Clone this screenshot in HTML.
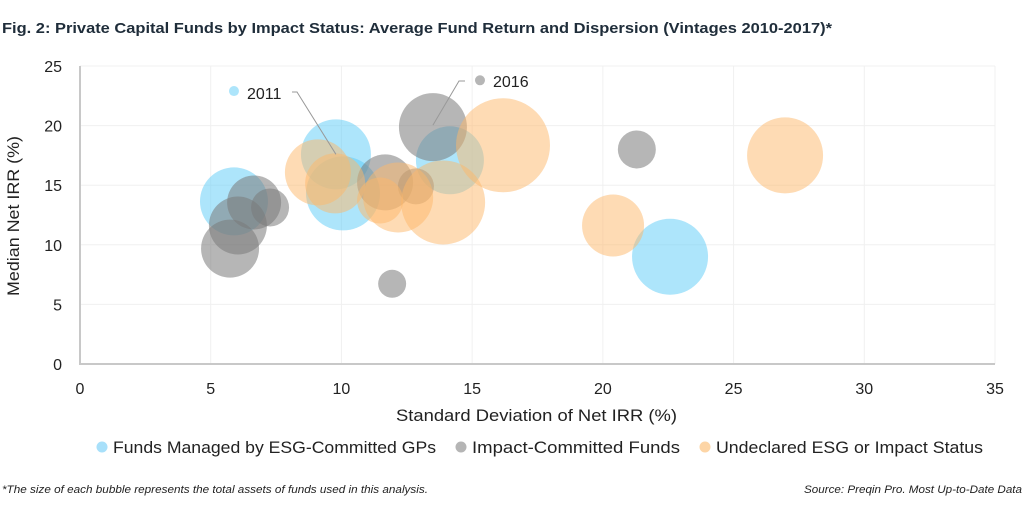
<!DOCTYPE html>
<html><head><meta charset="utf-8"><style>
html,body{margin:0;padding:0;background:#fff;}
body{width:1024px;height:512px;overflow:hidden;font-family:"Liberation Sans",sans-serif;}
</style></head><body>
<svg width="1024" height="512" xmlns="http://www.w3.org/2000/svg" font-family="Liberation Sans, sans-serif">
<text x="2" y="33" font-size="15" font-weight="bold" fill="#1f2d3a" textLength="830" lengthAdjust="spacingAndGlyphs">Fig. 2: Private Capital Funds by Impact Status: Average Fund Return and Dispersion (Vintages 2010-2017)*</text>
<g id="grid"></g>
<g id="axes"></g>
<g id="bubbles"></g>
<g id="ann"></g>
<text x="396" y="421" font-size="17" fill="#222" textLength="281" lengthAdjust="spacingAndGlyphs">Standard Deviation of Net IRR (%)</text>
<text transform="translate(19,296) rotate(-90)" font-size="17" fill="#222" textLength="160" lengthAdjust="spacingAndGlyphs">Median Net IRR (%)</text>
<g font-size="17" fill="#222">
<g><circle cx="102" cy="447" r="5.5" fill="#a8e0fa"/><text x="113" y="453" textLength="323" lengthAdjust="spacingAndGlyphs">Funds Managed by ESG-Committed GPs</text></g>
<g><circle cx="461" cy="447" r="5.5" fill="#b5b5b5"/><text x="472" y="453" textLength="208" lengthAdjust="spacingAndGlyphs">Impact-Committed Funds</text></g>
<g><circle cx="705" cy="447" r="5.5" fill="#fdd5a6"/><text x="716" y="453" textLength="267" lengthAdjust="spacingAndGlyphs">Undeclared ESG or Impact Status</text></g>
</g>
<text x="2" y="493" font-size="11" font-style="italic" fill="#222" textLength="426" lengthAdjust="spacingAndGlyphs">*The size of each bubble represents the total assets of funds used in this analysis.</text>
<text x="804" y="493" font-size="11" font-style="italic" fill="#222" textLength="218" lengthAdjust="spacingAndGlyphs">Source: Preqin Pro. Most Up-to-Date Data</text>
</svg>
<script>
const xTicks=[0,5,10,15,20,25,30,35];
const yTicks=[0,5,10,15,20,25];
const esgX=[5.89,10.06,9.79,14.15,22.57,5.89];
const esgY=[13.64,14.31,17.59,17.09,9.0,22.9];
const esgSize=[1156,1369,1225,1156,1444,25];
const impX=[6.66,7.27,6.04,5.74,11.67,13.5,12.85,11.94,21.3,15.3];
const impY=[13.55,13.13,11.62,9.68,15.24,19.87,14.9,6.73,18.0,23.8];
const impSize=[729,361,841,841,784,1156,324,196,361,25];
const undX=[9.1,9.76,11.48,12.17,13.89,16.18,20.39,26.97];
const undY=[16.08,15.15,13.72,13.97,13.55,18.35,11.62,17.5];
const undSize=[1089,900,529,1225,1764,2209,961,1444];
const NS="http://www.w3.org/2000/svg";
const X0=80,X1=995,Y0=364,Y1=66;
const xs=v=>X0+(v-0)/(35-0)*(X1-X0);
const ys=v=>Y0-(v-0)/(25-0)*(Y0-Y1);
const rs=s=>Math.sqrt(s);
function mk(tag,attrs,parent){const e=document.createElementNS(NS,tag);for(const k in attrs)e.setAttribute(k,attrs[k]);parent.appendChild(e);return e;}
const grid=document.getElementById('grid'),axes=document.getElementById('axes');
xTicks.forEach(t=>{
 if(t>0){const l=mk('line',{x1:xs(t),x2:xs(t),y1:Y1,y2:Y0,stroke:'#f0f0f0'},grid);
 
 }
 const tx=mk('text',{x:xs(t),y:Y0+30,'font-size':16,fill:'#222','text-anchor':'middle'},axes);tx.textContent=t;
 
 
});
yTicks.forEach(t=>{
 if(t>0){const l=mk('line',{x1:X0,x2:X1,y1:ys(t),y2:ys(t),stroke:'#f0f0f0'},grid);
 
 }
 const tx=mk('text',{x:62,y:ys(t)+6,'font-size':16,fill:'#222','text-anchor':'end'},axes);tx.textContent=t;
 
 
});
const ax=mk('path',{d:`M${X0},${Y1} V${Y0} H${X1}`,fill:'none',stroke:'#c8c8c8','stroke-width':2},axes);


const bg=document.getElementById('bubbles');
function series(X,Y,S,col,op,name){X.forEach((x,i)=>{
 const c=mk('circle',{cx:xs(x),cy:ys(Y[i]),r:rs(S[i]),fill:col,'fill-opacity':op},bg);
 
 
});}
series(esgX,esgY,esgSize,'#5ccbf7',0.5,'esg-bubble');
series(impX,impY,impSize,'#7a7a7a',0.55,'impact-bubble');
series(undX,undY,undSize,'#fdb86a',0.5,'undeclared-bubble');
const ann=document.getElementById('ann');
const a1=mk('polyline',{points:`292,92 297,92 ${xs(esgX[2])},${ys(esgY[2])}`,fill:'none',stroke:'#999','stroke-width':1},ann);


const a2=mk('polyline',{points:`465,81 459,81 ${xs(impX[5])},${ys(impY[5])-2}`,fill:'none',stroke:'#999','stroke-width':1},ann);


const t1=mk('text',{x:247,y:99,'font-size':16,fill:'#222'},ann);t1.textContent='2011';


const t2=mk('text',{x:493,y:87,'font-size':16,fill:'#222'},ann);t2.textContent='2016';


</script>
</body></html>
